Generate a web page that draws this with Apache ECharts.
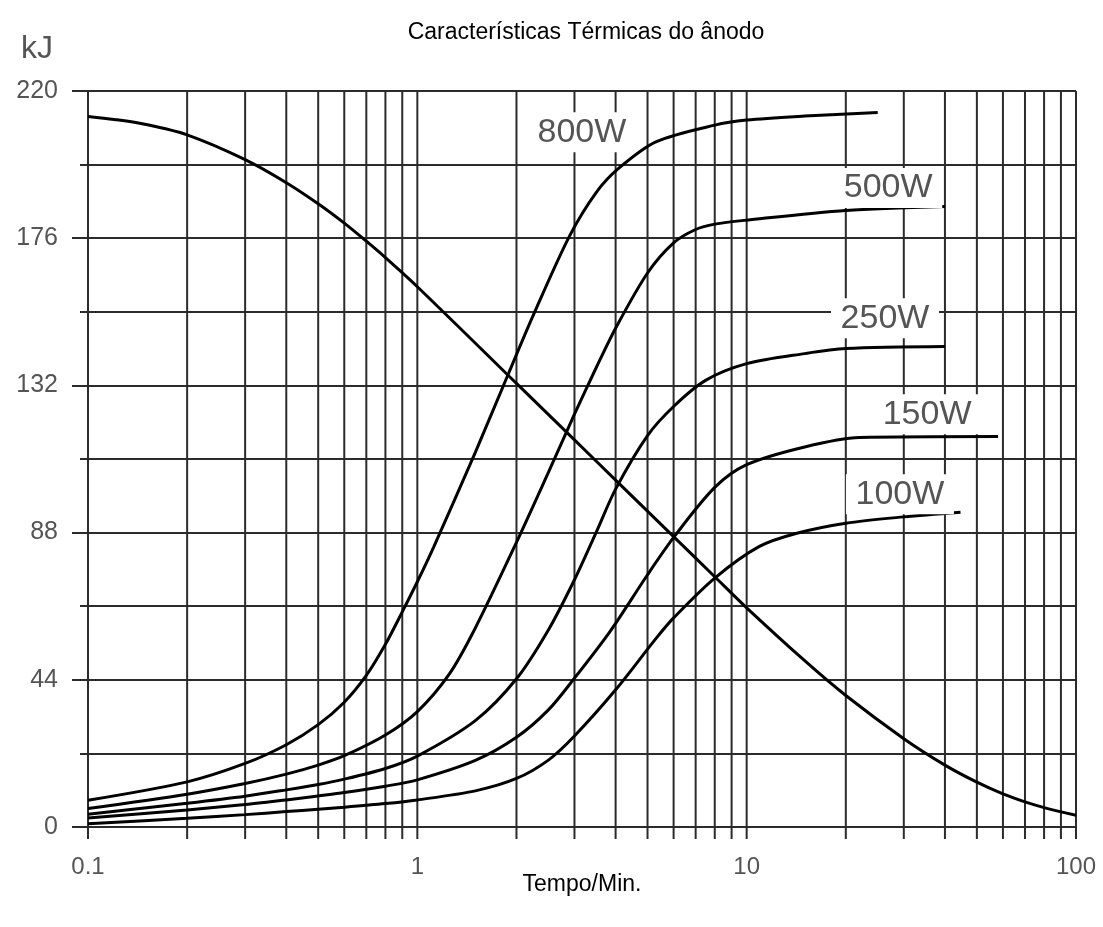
<!DOCTYPE html>
<html>
<head>
<meta charset="utf-8">
<title>Características Térmicas do ânodo</title>
<script src="https://cdn.jsdelivr.net/npm/echarts@6/dist/echarts.min.js"></script>
<style>
  html, body { margin: 0; padding: 0; background: #fff; }
  #chart { width: 1103px; height: 927px; }
</style>
</head>
<body>
<div id="chart"></div>
<script>
  // tempo em minutos (eixo log) e energia em kJ
  const t800 = [0.1, 0.2, 0.3, 0.4, 0.5, 0.6, 0.7, 0.8, 0.9, 1, 1.12, 1.5, 1.9, 2.25, 2.9, 3.5, 4.1, 5.3, 8, 10, 15, 25]
  const kj800 = [8, 13.5, 19, 24.6, 30.6, 37.3, 45.3, 54.6, 64.3, 73.3, 83.6, 112, 136, 153, 176.7, 189.8, 197, 204.8, 209.8, 211.3, 212.5, 213.6]

  const t500 = [0.1, 0.2, 0.3, 0.4, 0.5, 0.6, 0.8, 1, 1.25, 1.5, 2, 2.5, 3, 3.5, 4, 5, 6, 7, 8, 10, 20, 40]
  const kj500 = [5.5, 9.8, 13, 15.8, 18.5, 21.3, 27.5, 34.5, 45.7, 59.5, 85.1, 106, 123.4, 137.5, 149.1, 165.6, 174.6, 178.6, 180.2, 181.4, 184.3, 185.5]

  const t250 = [0.1, 0.2, 0.3, 0.4, 0.5, 0.6, 0.8, 1, 1.5, 2, 2.5, 3, 3.5, 4, 5, 6, 7.5, 10, 15, 20, 40]
  const kj250 = [3.8, 7.1, 9.2, 11.1, 12.7, 14.3, 17.5, 21.2, 31.8, 44.3, 58.9, 73.9, 88.3, 101, 117, 125.7, 133.5, 138.5, 141.5, 143, 143.6]

  const t150 = [0.1, 0.2, 0.3, 0.4, 0.5, 0.6, 0.8, 1, 1.5, 2, 2.5, 3, 3.85, 5, 6.05, 8, 10, 15, 22, 58]
  const kj150 = [2.7, 5.1, 6.7, 8.1, 9.3, 10.3, 12.2, 14.1, 19.9, 26.8, 35, 44.5, 58.5, 75.4, 87, 101.5, 108.3, 113.6, 116.4, 116.7]

  const t100 = [0.1, 0.2, 0.3, 0.4, 0.5, 0.6, 0.8, 1, 1.5, 2, 2.5, 3, 4, 5.3, 6, 8, 10.9, 14.2, 20, 30, 44.6]
  const kj100 = [1.0, 2.6, 3.7, 4.6, 5.3, 5.9, 7.0, 8.1, 10.8, 14.5, 20, 27.2, 41, 56.3, 62.5, 74.4, 83.8, 87.8, 90.8, 92.7, 94.1]

  // curva de arrefecimento
  const tCool = [0.1, 0.12, 0.15, 0.2, 0.3, 0.4, 0.5, 0.6, 0.7, 0.8, 1, 2, 3, 4, 6, 8, 10, 15, 20, 30, 40, 50, 60, 70, 80, 100]
  const kjCool = [212.4, 211.5, 210, 206.9, 199.5, 192.6, 186.3, 180.5, 175.1, 170.2, 161.5, 132.6, 115.7, 103.7, 86.8, 74.8, 65.5, 49.7, 39.3, 26.4, 18.5, 13.4, 9.9, 7.5, 5.8, 3.5]

  const seriesNames = ['800W', '500W', '250W', '150W', '100W']

  // linhas verticais da grelha logarítmica
  const gridTimes = [0.1, 0.2, 0.3, 0.4, 0.5, 0.6, 0.7, 0.8, 0.9,
    1, 2, 3, 4, 5, 6, 7, 8, 9,
    10, 20, 30, 40, 50, 60, 70, 80, 90, 100]

  const zip = (xs, ys) => xs.map((x, i) => [x, ys[i]])

  const font = "'Liberation Sans', Arial, sans-serif"
  const gridColor = '#2b2b2b'

  // onde fica cada etiqueta (tempo, kJ)
  const labelAt = {
    '800W': [3.16, 207.7],
    '500W': [26.9, 191],
    '250W': [26.3, 152.1],
    '150W': [35.3, 123.4],
    '100W': [29.2, 99.5]
  }

  const curve = (name, data) => ({
    name: name,
    type: 'line',
    data: data,
    smooth: 0.3,
    showSymbol: false,
    symbol: 'none',
    z: 3,
    lineStyle: { color: '#000', width: 3 }
  })

  const powerSeries = [
    zip(t800, kj800), zip(t500, kj500), zip(t250, kj250), zip(t150, kj150), zip(t100, kj100)
  ].map((data, i) => Object.assign(curve(seriesNames[i], data), {
    markPoint: {
      symbol: 'rect',
      symbolSize: [108, 40],
      itemStyle: { color: '#fff' },
      z: 4,
      label: {
        show: true,
        formatter: seriesNames[i],
        color: '#555',
        fontSize: 34,
        fontFamily: font
      },
      data: [{ coord: labelAt[seriesNames[i]] }]
    }
  }))

  const chart = echarts.init(document.getElementById('chart'))

  chart.setOption({
    animation: false,
    backgroundColor: '#fff',
    title: {
      text: 'Características Térmicas do ânodo',
      left: 581,
      top: 16,
      textAlign: 'center',
      textStyle: { fontFamily: font, fontSize: 23, fontWeight: 'normal', color: '#000' }
    },
    graphic: [
      {
        type: 'text',
        left: 21,
        top: 33,
        style: { text: 'kJ', fontSize: 32, fontFamily: font, fill: '#555' }
      },
      {
        type: 'text',
        x: 582,
        y: 873,
        style: { text: 'Tempo/Min.', fontSize: 23, fontFamily: font, fill: '#000', textAlign: 'center' }
      }
    ],
    grid: { left: 88, right: 27, top: 91, bottom: 100 },
    xAxis: {
      type: 'log',
      logBase: 10,
      min: 0.1,
      max: 100,
      axisLine: { show: false },
      axisTick: { show: false },
      splitLine: { show: false },
      axisLabel: {
        fontFamily: font,
        fontSize: 24,
        color: '#555',
        margin: 28,
        formatter: v => String(v)
      }
    },
    yAxis: [
      {
        type: 'value',
        min: 0,
        max: 220,
        interval: 22,
        axisLine: { show: false },
        axisTick: { show: true, length: 8, lineStyle: { color: gridColor, width: 2 } },
        axisLabel: { show: false },
        splitLine: { show: true, lineStyle: { color: gridColor, width: 2 } }
      },
      {
        type: 'value',
        min: 0,
        max: 220,
        interval: 44,
        position: 'left',
        axisLine: { show: false },
        axisTick: { show: true, length: 16, lineStyle: { color: gridColor, width: 2 } },
        splitLine: { show: false },
        axisLabel: { fontFamily: font, fontSize: 25, color: '#555', margin: 30 }
      }
    ],
    series: [
      {
        type: 'custom',
        silent: true,
        clip: false,
        z: 1,
        data: gridTimes.map(t => [t, 0]),
        encode: { x: 0, y: 1 },
        renderItem: (params, api) => {
          const top = api.coord([api.value(0), 220])
          const bot = api.coord([api.value(0), 0])
          return {
            type: 'line',
            shape: { x1: top[0], y1: top[1], x2: bot[0], y2: bot[1] + 12 },
            style: { stroke: gridColor, lineWidth: 2 }
          }
        }
      },
      ...powerSeries,
      curve('arrefecimento', zip(tCool, kjCool))
    ]
  })
</script>
</body>
</html>
